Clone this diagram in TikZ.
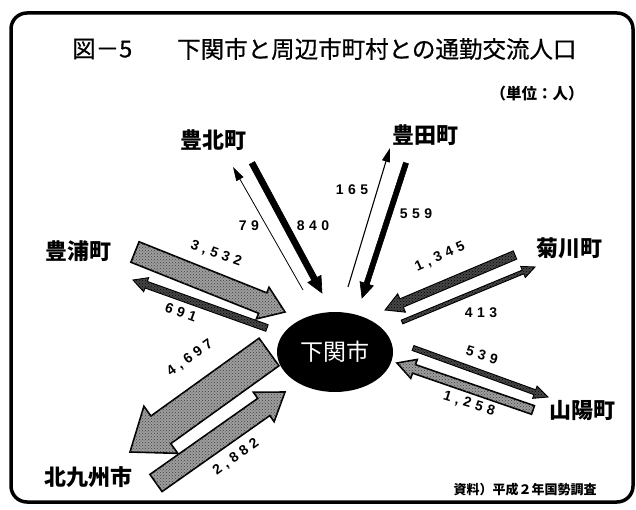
\documentclass[tikz,border=0pt]{standalone}
\usepackage{fontspec}
\newfontfamily\jp{Noto Sans CJK JP}
\newfontfamily\jpt[FakeBold=0.6]{Noto Sans CJK JP}
\newfontfamily\numfont[LetterSpace=32]{Liberation Sans}
\usetikzlibrary{calc,shapes.geometric,arrows.meta,patterns}
\newcommand{\flowarrow}[6]{%
  \coordinate (fa-h) at ($(#2)!#5!(#1)$);
  \draw[#6] ($(#1)!#3!90:(#2)$) -- ($(fa-h)!#3!-90:(#1)$) -- ($(fa-h)!#4!-90:(#1)$) -- (#2) -- ($(fa-h)!#4!90:(#1)$) -- ($(fa-h)!#3!90:(#1)$) -- ($(#1)!#3!-90:(#2)$) -- cycle;}
\tikzset{
  place/.style={font=\jp\bfseries\fontsize{22}{22}\selectfont, inner sep=0pt},
  num/.style={font=\numfont\bfseries\fontsize{14}{14}\selectfont, inner sep=0pt},
  solidarr/.style={fill=black, draw=black, line width=0.6pt, line join=miter},
  darkarr/.style={fill=black!72, draw=black, line width=0.9pt,
    postaction={pattern=crosshatch dots, pattern color=black}},
  grayarr/.style={fill=black!38, draw=black, line width=1.6pt,
    postaction={pattern=crosshatch dots, pattern color=black!75}},
  thinarr/.style={draw=black, line width=0.8pt, -{Triangle[length=14pt,width=8pt]}},
}
\begin{document}
\begin{tikzpicture}[x=1pt,y=-1pt]
\useasboundingbox (0,0) rectangle (636,510);
\fill[white] (0,0) rectangle (636,510);
% frame
\draw[line width=3.5pt, rounded corners=16pt] (11,13) rectangle (633,502);
% title
\node[font=\jpt\fontsize{23.5}{23.5}\selectfont, anchor=west, inner sep=0pt] (t1) at (72,49) {図－5};
\node[font=\jpt\fontsize{23.5}{23.5}\selectfont, anchor=west, inner sep=0pt] (t2) at (177,49) {下関市と周辺市町村との通勤交流人口};
\node[font=\jp\bfseries\fontsize{15.5}{15.5}\selectfont, inner sep=0pt] (unit) at (537,94) {（単位：人）};
\node[font=\jp\bfseries\fontsize{13}{13}\selectfont, inner sep=0pt] (src) at (525,490) {資料）平成２年国勢調査};
% center
\node[ellipse, fill=black, minimum width=116pt, minimum height=80pt, inner sep=0pt,
  text=white, font=\jp\fontsize{23}{23}\selectfont] (shimo) at (335,352) {下関市};
% places
\node[place] (hokuhoku) at (213,140) {豊北町};
\node[place] (toyota) at (425,135) {豊田町};
\node[place] (toyoura) at (78,251) {豊浦町};
\node[place] (kikugawa) at (569,248) {菊川町};
\node[place] (sanyo) at (582,411) {山陽町};
\node[place] (kita) at (88,477) {北九州市};
% arrow end points
\coordinate (a79s) at (303,290); \coordinate (a79t) at (233,167);
\coordinate (a840s) at (252,163); \coordinate (a840t) at (322,293);
\coordinate (a165s) at (348,287); \coordinate (a165t) at (390,148);
\coordinate (a559s) at (406,163); \coordinate (a559t) at (362,298);
\coordinate (a1345s) at (515,255); \coordinate (a1345t) at (385,310);
\coordinate (a413s) at (402,322); \coordinate (a413t) at (535,267);
\coordinate (a539s) at (413,348); \coordinate (a539t) at (548,397);
\coordinate (a1258s) at (533,410); \coordinate (a1258t) at (397,363);
\coordinate (a3532s) at (135,252); \coordinate (a3532t) at (285,312);
\coordinate (a691s) at (267,328); \coordinate (a691t) at (133,280);
\coordinate (a4697s) at (269,352); \coordinate (a4697t) at (130,452);
\coordinate (a2882s) at (156,483); \coordinate (a2882t) at (285,392);
% arrows
\draw[thinarr] (a79s) -- (a79t);
\flowarrow{a840s}{a840t}{3pt}{7.5pt}{16pt}{solidarr}
\draw[thinarr, line width=1.1pt] (a165s) -- (a165t);
\flowarrow{a559s}{a559t}{2.6pt}{7pt}{15pt}{solidarr}
\flowarrow{a1345s}{a1345t}{4.5pt}{10pt}{18pt}{darkarr}
\flowarrow{a413s}{a413t}{2pt}{6pt}{13pt}{darkarr}
\flowarrow{a539s}{a539t}{2.6pt}{6.5pt}{14pt}{darkarr}
\flowarrow{a1258s}{a1258t}{4.5pt}{10pt}{18pt}{grayarr}
\flowarrow{a3532s}{a3532t}{11pt}{17pt}{24pt}{grayarr}
\flowarrow{a691s}{a691t}{3.5pt}{7.5pt}{14pt}{darkarr}
\flowarrow{a4697s}{a4697t}{17pt}{29pt}{38pt}{grayarr}
\flowarrow{a2882s}{a2882t}{10.5pt}{18pt}{26pt}{grayarr}
% labels
\node[num] (l79) at (249,226) {79};
\node[num] (l840) at (313,226) {840};
\node[num] (l165) at (352,190) {165};
\node[num] (l559) at (416,214) {559};
\node[num, rotate=24] (l1345) at (440,257) {1,345};
\node[num] (l413) at (481,313) {413};
\node[num, rotate=-17] (l539) at (482,355) {539};
\node[num, rotate=-17] (l1258) at (469,404) {1,258};
\node[num, rotate=-20] (l3532) at (216,254) {3,532};
\node[num, rotate=-20] (l691) at (181,312) {691};
\node[num, rotate=36] (l4697) at (190,358) {4,697};
\node[num, rotate=36] (l2882) at (236,457) {2,882};
\end{tikzpicture}
\end{document}
